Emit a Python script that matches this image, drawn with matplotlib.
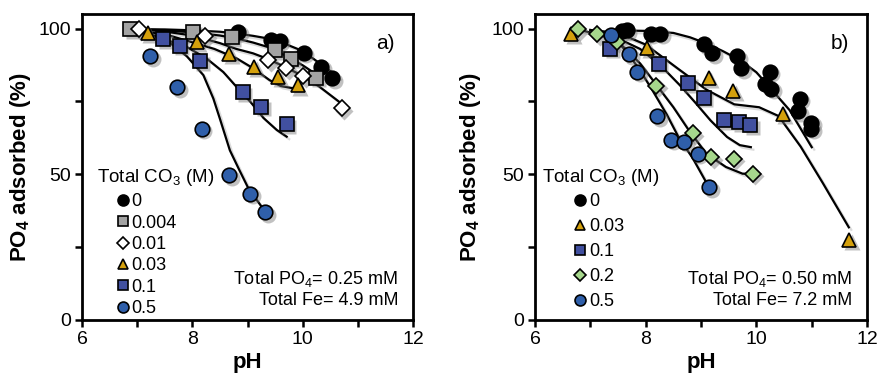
import matplotlib
matplotlib.use("Agg")
import matplotlib.pyplot as plt
from matplotlib.lines import Line2D
from matplotlib import transforms

plt.rcParams['font.family'] = ['Liberation Sans', 'DejaVu Sans']
plt.rcParams['mathtext.fontset'] = 'custom'
plt.rcParams['mathtext.rm'] = 'Liberation Sans'
plt.rcParams['mathtext.bf'] = 'Liberation Sans:bold'
plt.rcParams['mathtext.it'] = 'Liberation Sans:italic'
plt.rcParams['font.size'] = 13.5

# ---- panel a) data: measured points (pH, % adsorbed)
a_ph_0 = [8.83, 9.43, 9.58, 10.02, 10.34, 10.54]
a_y_0 = [98.9, 96.0, 95.8, 91.7, 86.9, 82.9]
a_ph_0004 = [6.87, 8.01, 8.71, 9.49, 9.79, 10.25]
a_y_0004 = [99.8, 98.9, 97.1, 92.6, 89.7, 83.1]
a_ph_001 = [7.03, 8.23, 9.38, 9.70, 10.01, 10.71]
a_y_001 = [99.8, 97.5, 89.1, 86.3, 83.7, 72.6]
a_ph_003 = [7.19, 8.08, 8.67, 9.12, 9.56, 9.91]
a_y_003 = [98.5, 95.4, 91.4, 86.9, 83.4, 80.6]
a_ph_01 = [7.47, 7.77, 8.14, 8.91, 9.25, 9.71]
a_y_01 = [96.3, 94.1, 88.8, 78.1, 73.1, 67.2]
a_ph_05 = [7.24, 7.73, 8.17, 8.67, 9.05, 9.32]
a_y_05 = [90.5, 79.8, 65.7, 49.7, 43.4, 36.9]

# panel a) model curves
a_cph_0 = [6.9, 7.5, 8.0, 8.5, 8.8, 9.1, 9.4, 9.7, 10.0, 10.35, 10.65]
a_cy_0 = [99.8, 99.7, 99.4, 98.9, 98.3, 97.5, 96.5, 94.6, 92.3, 87.5, 83.3]
a_cph_0004 = [6.9, 7.5, 8.0, 8.5, 8.8, 9.1, 9.4, 9.7, 10.0, 10.3]
a_cy_0004 = [99.8, 99.4, 98.7, 97.6, 96.6, 95.2, 93.5, 90.6, 87.4, 83.6]
a_cph_001 = [7.0, 7.5, 8.0, 8.2, 8.5, 8.8, 9.1, 9.35, 9.7, 10.0, 10.3, 10.7]
a_cy_001 = [99.8, 99.0, 97.6, 96.6, 95.0, 93.0, 91.5, 89.7, 86.7, 83.7, 80.1, 74.3]
a_cph_003 = [7.2, 7.6, 8.0, 8.4, 8.8, 9.1, 9.4, 9.6, 9.8, 9.95]
a_cy_003 = [98.8, 97.5, 95.3, 93.0, 89.8, 86.4, 82.3, 80.3, 79.6, 79.6]
a_cph_01 = [7.0, 7.24, 7.5, 7.9, 8.26, 8.56, 8.8, 9.05, 9.29, 9.53, 9.71]
a_cy_01 = [99.3, 97.8, 96.3, 93.7, 89.7, 85.1, 80.0, 74.9, 69.3, 65.2, 62.9]
a_cph_05 = [7.0, 7.5, 7.9, 8.2, 8.38, 8.5, 8.68, 8.85, 9.02, 9.3]
a_cy_05 = [99.3, 96.5, 90.5, 84.0, 76.0, 69.0, 58.2, 51.5, 45.0, 37.7]

# ---- panel b) data
b_ph_0 = [7.57, 7.66, 8.09, 8.26, 9.06, 9.20, 9.65, 9.73, 10.24, 10.16, 10.27, 10.78, 10.76, 10.99, 10.99]
b_y_0 = [99.3, 99.4, 98.3, 98.3, 94.6, 91.6, 90.5, 86.3, 85.1, 81.1, 79.4, 75.9, 71.7, 67.7, 65.6]
b_ph_003 = [6.65, 8.03, 9.14, 9.58, 10.48, 11.68]
b_y_003 = [98.3, 93.4, 83.2, 78.6, 70.8, 27.6]
b_ph_01 = [7.36, 8.24, 8.77, 9.05, 9.42, 9.68, 9.89]
b_y_01 = [93.1, 88.0, 81.3, 76.2, 68.5, 67.9, 66.8]
b_ph_02 = [6.77, 7.12, 7.48, 8.19, 8.85, 9.18, 9.59, 9.93]
b_y_02 = [99.7, 98.1, 95.4, 80.3, 64.1, 55.9, 55.3, 50.2]
b_ph_05 = [7.37, 7.70, 7.85, 8.21, 8.46, 8.70, 8.94, 9.15]
b_y_05 = [97.9, 91.1, 85.1, 69.9, 61.9, 61.1, 57.0, 45.6]

# panel b) model curves
b_cph_0 = [7.4, 8.0, 8.5, 8.8, 9.11, 9.4, 9.71, 10.0, 10.3, 10.6, 11.0]
b_cy_0 = [99.4, 99.2, 98.5, 97.0, 94.8, 92.2, 89.1, 85.0, 78.5, 72.0, 59.3]
b_cph_003 = [7.0, 7.5, 8.0, 8.6, 9.1, 9.6, 10.05, 10.4, 10.8, 11.2, 11.67]
b_cy_003 = [99.5, 98.5, 94.5, 86.0, 79.0, 74.0, 73.0, 70.0, 59.5, 47.0, 31.8]
b_cph_01 = [7.0, 7.4, 7.9, 8.26, 8.62, 8.9, 9.17, 9.47, 9.7, 9.9]
b_cy_01 = [99.5, 97.5, 93.0, 87.5, 80.5, 74.5, 68.5, 62.8, 60.0, 59.3]
b_cph_02 = [6.77, 7.12, 7.5, 7.9, 8.2, 8.5, 8.8, 9.1, 9.45, 9.75, 9.92]
b_cy_02 = [99.7, 98.1, 95.5, 88.0, 80.5, 73.0, 64.5, 57.0, 52.5, 50.2, 50.2]
b_cph_05 = [7.37, 7.66, 7.9, 8.1, 8.38, 8.6, 8.85, 9.13]
b_cy_05 = [97.9, 92.0, 85.5, 79.5, 70.5, 62.5, 55.5, 46.0]

a_labels = ['0', '0.004', '0.01', '0.03', '0.1', '0.5']
b_labels = ['0', '0.03', '0.1', '0.2', '0.5']

# marker styles per CO3 level
styles = {
    '0': ('o', 'black'),
    '0.004': ('s', '#A3A3A3'),
    '0.01': ('D', 'white'),
    '0.03': ('^', '#D4A00C'),
    '0.1': ('s', '#4150A0'),
    '0.2': ('D', '#A6D78C'),
    '0.5': ('o', '#2F5FAA'),
}
sizes = {'o': 10.5, 's': 9.5, 'D': 8.0, '^': 10.0}

a_points = [(a_ph_0, a_y_0), (a_ph_0004, a_y_0004), (a_ph_001, a_y_001),
            (a_ph_003, a_y_003), (a_ph_01, a_y_01), (a_ph_05, a_y_05)]
a_curves = [(a_cph_0, a_cy_0), (a_cph_0004, a_cy_0004), (a_cph_001, a_cy_001),
            (a_cph_003, a_cy_003), (a_cph_01, a_cy_01), (a_cph_05, a_cy_05)]
b_points = [(b_ph_0, b_y_0), (b_ph_003, b_y_003), (b_ph_01, b_y_01),
            (b_ph_02, b_y_02), (b_ph_05, b_y_05)]
b_curves = [(b_cph_0, b_cy_0), (b_cph_003, b_cy_003), (b_cph_01, b_cy_01),
            (b_cph_02, b_cy_02), (b_cph_05, b_cy_05)]

fig = plt.figure(figsize=(8.79, 3.76), dpi=100)
ax_a = fig.add_axes([0.0933, 0.149, 0.3766, 0.8138])
ax_b = fig.add_axes([0.6087, 0.149, 0.3777, 0.8138])


def draw_panel(ax, labels, points, curves, tag, info, leg_title_x, leg_x, leg_spacing, ylab_x):
    shadow = transforms.offset_copy(ax.transData, fig=fig, x=2.5, y=-2.5, units='dots')
    for (cx, cy) in curves:
        ax.plot(cx, cy, color='#999999', lw=1.6, alpha=0.35, transform=shadow, zorder=1)
        ax.plot(cx, cy, color='black', lw=1.6, zorder=2)
    handles = []
    for lab, (px, py) in zip(labels, points):
        m, c = styles[lab]
        ms = sizes[m]
        ax.plot(px, py, ls='none', marker=m, ms=ms + 1, color='#777777', alpha=0.45,
                mec='none', transform=shadow, zorder=3)
        ax.plot(px, py, ls='none', marker=m, ms=ms, mfc=c, mec='black', mew=1.2, zorder=4)
        handles.append(Line2D([], [], ls='none', marker=m, ms=ms * 0.75, mfc=c,
                              mec='black', mew=1.2, label=lab))
    ax.set_xlim(6, 12)
    ax.set_ylim(0, 105)
    ax.set_xticks([6, 8, 10, 12])
    ax.set_xticks([7, 9, 11], minor=True)
    ax.set_yticks([0, 50, 100])
    ax.set_yticks([25, 75], minor=True)
    ax.tick_params(which='both', direction='out', width=1.8, length=5, labelsize=14, pad=3)
    for s in ax.spines.values():
        s.set_linewidth(2.0)
    ax.set_xlabel('pH', fontweight='bold', fontsize=16)
    ax.xaxis.set_label_coords(0.5, -0.105)
    ax.set_ylabel(r'PO$_\mathbf{4}$ adsorbed (%)', fontweight='bold', fontsize=16)
    ax.yaxis.set_label_coords(ylab_x, 0.5)
    ax.text(0.945, 0.905, tag, transform=ax.transAxes, ha='right', va='center', fontsize=15)
    ax.text(0.955, 0.05, info, transform=ax.transAxes, ha='right', va='baseline',
            fontsize=13, multialignment='right', linespacing=1.2)
    ax.text(leg_title_x, 0.45, r'Total CO$_\mathrm{3}$ (M)', transform=ax.transAxes,
            ha='left', va='baseline', fontsize=13.5)
    ax.legend(handles=handles, loc='upper left', bbox_to_anchor=(leg_x, 0.414),
              frameon=False, fontsize=13, handlelength=0.8, handletextpad=0.1,
              labelspacing=leg_spacing, borderpad=0, borderaxespad=0)


draw_panel(ax_a, a_labels, a_points, a_curves, 'a)',
           'Total PO$_\\mathrm{4}$= 0.25 mM\nTotal Fe= 4.9 mM', 0.045, 0.101, 0.24, -0.148)
draw_panel(ax_b, b_labels, b_points, b_curves, 'b)',
           'Total PO$_\\mathrm{4}$= 0.50 mM\nTotal Fe= 7.2 mM', 0.02, 0.113, 0.44, -0.157)

fig.savefig('out.png', dpi=100)
